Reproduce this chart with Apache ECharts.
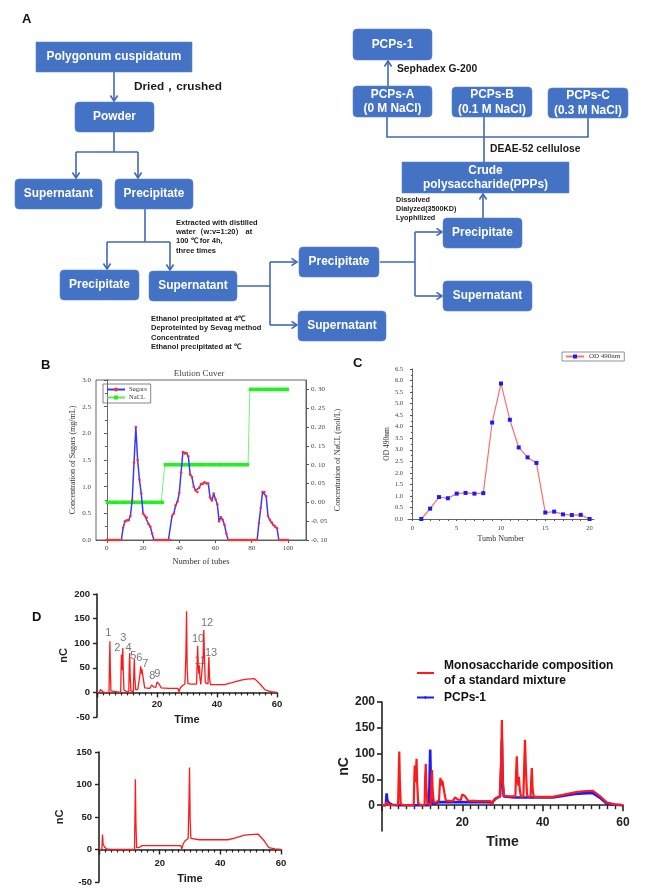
<!DOCTYPE html>
<html><head><meta charset="utf-8">
<script src="https://cdn.jsdelivr.net/npm/echarts@6/dist/echarts.min.js"></script>
<style>html,body{margin:0;padding:0;background:#fff}#c{width:645px;height:896px}</style>
</head><body><div id="c"></div>
<script>
// ================= DATA =================
// Panel A: flowchart labels
const flowLabels = {
  pc: 'Polygonum cuspidatum', powder: 'Powder', sup1: 'Supernatant', pre1: 'Precipitate',
  pre2: 'Precipitate', sup2: 'Supernatant', pre3: 'Precipitate', sup3: 'Supernatant',
  pre4: 'Precipitate', sup4: 'Supernatant', crude: 'Crude\npolysaccharide(PPPs)',
  pa: 'PCPs-A\n(0 M NaCl)', pb: 'PCPs-B\n(0.1 M NaCl)', pcc: 'PCPs-C\n(0.3 M NaCl)', p1: 'PCPs-1'
};
const flowNotes = {
  dried: 'Dried，crushed',
  extract: 'Extracted with distilled\nwater（w:v=1:20） at\n100 ℃ for 4h,\nthree times',
  ethanol: 'Ethanol precipitated at 4℃\nDeproteinted by Sevag method\nConcentrated\nEthanol precipitated at ℃',
  dialysis: 'Dissolved\nDialyzed(3500KD)\nLyophilized',
  deae: 'DEAE-52 cellulose',
  sephadex: 'Sephadex G-200'
};

// Panel B: elution curve (tube 0..100)
const sugars = [
  0,0,0,0,0,0,0,0,0,
  0.23,0.35,0.37,0.37,0.45,0.75,1.45,2.12,1.5,1.13,0.87,0.5,0.45,0.42,0.3,0.25,0.12,
  0,0,0,0,0,0,0,0,0,0,
  0.45,0.5,0.65,0.72,0.88,1.27,1.65,1.62,1.63,1.57,1.23,1.18,1.0,0.93,0.9,0.98,1.05,1.05,1.08,1.06,1.06,0.8,0.74,0.87,0.77,0.67,0.35,0.43,0.38,0.28,0.12,
  0,0,0,0,0,0,0,0,0,0,0,0,0,0,0,0,0,
  0.32,0.6,0.9,0.9,0.82,0.45,0.38,0.33,0.28,0.25,0.22,
  0,0,0,0,0,0
];
const nacl = [
  0,0,0,0,0,0,0,0,0,0, 0,0,0,0,0,0,0,0,0,0, 0,0,0,0,0,0,0,0,0,0, 0,0,
  0.1,0.1,0.1,0.1,0.1,0.1,0.1,0.1,0.1,0.1, 0.1,0.1,0.1,0.1,0.1,0.1,0.1,0.1,0.1,0.1,
  0.1,0.1,0.1,0.1,0.1,0.1,0.1,0.1,0.1,0.1, 0.1,0.1,0.1,0.1,0.1,0.1,0.1,0.1,0.1,0.1,
  0.1,0.1,0.1,0.1,0.1,0.1,0.1,
  0.3,0.3,0.3,0.3,0.3,0.3,0.3,0.3,0.3,0.3, 0.3,0.3,0.3,0.3,0.3,0.3,0.3,0.3,0.3,0.3, 0.3,0.3
];
const tubes = sugars.map((_, i) => i);
const bTicks = [0, 20, 40, 60, 80, 100];
const bRightTicks = [-0.1, -0.05, 0, 0.05, 0.1, 0.15, 0.2, 0.25, 0.3];

// Panel C: OD 490nm
const cTubes = [1,2,3,4,5,6,7,8,9,10,11,12,13,14,15,16,17,18,19,20];
const od490 = [0.0,0.45,0.95,0.9,1.1,1.13,1.1,1.12,4.18,5.87,4.3,3.1,2.67,2.43,0.28,0.32,0.2,0.17,0.18,0.0];
const cTicks = [0, 5, 10, 15, 20];
const cMinor = [0,1,2,3,4,5,6,7,8,9,10,11,12,13,14,15,16,17,18,19,20];

// Panel D: chromatograms [time, nC]
const standardTrace = [
  [0,0],[0.9,0],[1.1,6],[1.4,7],[1.7,2],[2.3,0],
  [4.0,0],[4.15,55],[4.3,104],[4.45,45],[4.65,3],[5.2,0],
  [7.9,0],[8.05,55],[8.15,77],[8.3,45],[8.45,60],[8.6,90],[8.75,45],[9.0,4],[9.6,0],
  [10.6,0],[10.75,55],[10.9,80],[11.05,35],[11.3,3],[12.1,1],[12.3,45],[12.45,68],[12.6,30],[12.9,5],
  [13.6,6],[14.2,10],[14.4,40],[14.55,53],[14.75,38],[14.95,48],[15.1,44],[15.3,46],[15.5,25],[15.9,9],
  [17.6,8],[18.2,15],[18.5,17],[18.9,11],[19.6,10],[20.0,21],[20.3,24],[20.7,17],[21.4,9],
  [24,8],[27.0,8],[27.3,1],[27.7,8],[28.3,13],[29.3,17],[29.65,80],[29.85,165],[30.05,50],[30.3,18],[31.5,17],
  [33.2,17],[33.4,65],[33.55,95],[33.75,50],[33.95,38],[34.1,55],[34.3,30],[34.6,16],[35.2,17],[35.4,75],[35.6,127],[35.8,75],[36.1,20],[36.5,16],[37.0,17],[37.15,50],[37.3,72],[37.5,30],[37.8,16],
  [40,16],[42.5,16],[45,20],[48,25],[50,27],[52.5,28],[54.5,16],[56,5],[58,1.5],[60,0]
];
const pcpsTrace = [
  [0,0],[0.95,0],[1.15,23],[1.35,9],[1.55,12],[1.8,4],[2.5,1],[4,0],
  [11.7,0],[11.85,50],[12.0,108],[12.15,45],[12.4,3],[13.2,3],[14.2,6],[20,6],[27.0,6],[27.3,1],[27.7,8],[28.3,13],[29.4,17],[29.65,70],[29.85,126],[30.05,45],[30.3,17],[33,15],[42.5,15],[45,18],[48,22],[50,23],[52.5,23.5],[54.5,13],[56,3],[58,1],[60,0]
];
const peakLabels = [
  ['1',3.8,121],['2',6.8,91],['3',8.8,111],['4',10.5,91],['5',12.1,75],['6',14.1,69],['7',16.1,57],
  ['8',18.4,34],['9',20.1,38],['10',33.7,109],['11',34.4,63],['12',36.7,141],['13',38.0,81]
];
const stdName = 'Monosaccharide composition\nof a standard mixture';
const pcpsName = 'PCPs-1';
const d3Ticks = [0, 50, 100, 150, 200];

// ================= LAYOUT / STYLE =================
const SANS = '"Liberation Sans", Arial, sans-serif';
const SERIF = '"Liberation Serif", "Times New Roman", serif';
const BOX = '#4472C4';
const LINE = '#4068b8';
const boxLayout = {
  pc:[36,42,156,30,0], powder:[75,102,79,30,4], sup1:[15,179,87,30,4], pre1:[115,179,78,30,4],
  pre2:[60,270,79,30,4], sup2:[149,271,88,30,4], pre3:[299,247,80,30,4], sup3:[298,311,88,30,4],
  pre4:[443,218,79,30,4], sup4:[443,281,89,30,4], crude:[402,162,167,31,0],
  pa:[353,86,79,31,4], pb:[452,87,80,30,4], pcc:[548,88,80,30,4], p1:[353,29,79,31,4]
};
const connectors = [
  [[[114,72],[114,101]], true],
  [[[114,132],[114,152]], false],
  [[[76,152],[138,152]], false],
  [[[76,152],[76,178]], true],
  [[[138,152],[138,178]], true],
  [[[145,209],[145,242]], false],
  [[[107,242],[170,242]], false],
  [[[107,242],[107,269]], true],
  [[[170,242],[170,270]], true],
  [[[237,286],[270,286]], false],
  [[[270,262],[270,325]], false],
  [[[270,262],[297,262]], true],
  [[[270,325],[297,325]], true],
  [[[380,262],[415,262]], false],
  [[[415,232],[415,296]], false],
  [[[415,232],[442,232]], true],
  [[[415,296],[442,296]], true],
  [[[483,218],[483,194]], true],
  [[[484,117],[484,162]], false],
  [[[387,117],[387,137],[588,137],[588,118]], false],
  [[[388,86],[388,61]], true]
];
const notesLayout = {
  dried:   {x:134, y:87, font:'bold 11.8px', lh:13, va:'middle'},
  extract: {x:176, y:218, font:'bold 7.5px', lh:9.3, va:'top'},
  ethanol: {x:151, y:314, font:'bold 7.5px', lh:9.4, va:'top'},
  dialysis:{x:396, y:196, font:'bold 7.2px', lh:9, va:'top'},
  deae:    {x:490, y:149, font:'bold 10.3px', lh:12, va:'middle'},
  sephadex:{x:397, y:69, font:'bold 10.3px', lh:12, va:'middle'}
};

const G = [];
Object.keys(boxLayout).forEach(k => {
  const [x,y,w,h,r] = boxLayout[k];
  G.push({type:'rect', z:10, shape:{x, y, width:w, height:h, r}, style:{fill:BOX, stroke:'#5b86d0', lineWidth:0.6}});
  G.push({type:'text', z:11, style:{text:flowLabels[k], x:x+w/2, y:y+h/2, textAlign:'center', textVerticalAlign:'middle',
    align:'center', verticalAlign:'middle', fill:'#fff', font:'bold 11.9px ' + SANS, lineHeight:14.5}});
});
connectors.forEach(([pts, head]) => {
  G.push({type:'polyline', z:9, shape:{points:pts}, style:{stroke:LINE, lineWidth:1.6, fill:null}});
  if (head) {
    const n = pts.length, [x2,y2] = pts[n-1], [x1,y1] = pts[n-2];
    const L = Math.hypot(x2-x1, y2-y1), ux = (x2-x1)/L, uy = (y2-y1)/L;
    const hl = 5.5, hw = 3.6, bx = x2-ux*hl, by = y2-uy*hl;
    G.push({type:'polyline', z:9, shape:{points:[[bx-uy*hw, by+ux*hw],[x2,y2],[bx+uy*hw, by-ux*hw]]},
      style:{stroke:LINE, lineWidth:1.6, fill:null}});
  }
});
Object.keys(notesLayout).forEach(k => {
  const n = notesLayout[k];
  G.push({type:'text', z:11, style:{text:flowNotes[k], x:n.x, y:n.y, textAlign:'left', align:'left',
    textVerticalAlign:n.va, verticalAlign:n.va, fill:'#1a1a1a', font:n.font + ' ' + SANS, lineHeight:n.lh}});
});
// panel letters and B title
[['A',22,19],['B',41,365],['C',353,363],['D',32,617]].forEach(([t,x,y]) => {
  G.push({type:'text', z:11, style:{text:t, x, y, textVerticalAlign:'middle', verticalAlign:'middle', fill:'#111', font:'bold 13px ' + SANS}});
});
G.push({type:'text', z:11, style:{text:'Elution Cuver', x:199, y:374, textAlign:'center', align:'center', textVerticalAlign:'middle', verticalAlign:'middle', fill:'#444', font:'9px ' + SERIF}});

// ---- axis helpers ----
const serifLabel = (extra) => Object.assign({fontFamily:SERIF, fontSize:7, color:'#444'}, extra || {});
const grayLine = {lineStyle:{color:'#555', width:0.9}};
const dAxisLine = {onZero:false, lineStyle:{color:'#222', width:1.6}};
const dTick = {length:5, lineStyle:{color:'#222', width:1.4}};
const dMinor = {show:true, splitNumber:10, length:3, lineStyle:{color:'#222', width:1.2}};

const option = {
  animation: false,
  graphic: {elements: G},
  grid: [
    {left:96, top:380, width:210, height:160, show:true, borderColor:'#555', borderWidth:0.9, outerBoundsMode:'none'},
    {left:408, top:369, width:186, height:150, outerBoundsMode:'none'},
    {left:97, top:594, width:180, height:123, outerBoundsMode:'none'},
    {left:99, top:752, width:182, height:130, outerBoundsMode:'none'},
    {left:382, top:702, width:241, height:129, outerBoundsMode:'none'}
  ],
  legend: [
    {data:['Sugars','NaCL'], orient:'vertical', left:103, top:384, itemGap:1, itemWidth:18, itemHeight:5,
      borderColor:'#666', borderWidth:0.8, padding:[2,4,2,3], textStyle:{fontFamily:SERIF, fontSize:6.5, color:'#333', padding:[0,0,0,-1]}},
    {data:['OD 490nm'], left:562, top:352, itemWidth:18, itemHeight:5,
      borderColor:'#777', borderWidth:0.8, padding:[1,4,1,3], textStyle:{fontFamily:SERIF, fontSize:7, color:'#333'}},
    {data:[stdName, pcpsName], orient:'vertical', left:411, top:653, itemGap:2, itemWidth:17, itemHeight:3,
      textStyle:{fontFamily:SANS, fontSize:12, fontWeight:'bold', color:'#111', lineHeight:15, padding:[0,0,0,5]}}
  ],
  xAxis: [
    {gridIndex:0, type:'value', min:-6, max:110, axisLine:{onZero:false, lineStyle:{color:'#555', width:0.9}},
      axisTick:{customValues:bTicks, length:3, lineStyle:{color:'#555'}}, splitLine:{show:false},
      axisLabel:Object.assign(serifLabel({margin:5}), {customValues:bTicks}),
      name:'Number of tubes', nameLocation:'middle', nameGap:17, nameTextStyle:{fontFamily:SERIF, fontSize:8.5, color:'#333'}},
    {gridIndex:1, type:'value', min:-0.5, max:20.5, axisLine:{onZero:false, lineStyle:{color:'#555', width:0.9}},
      axisTick:{customValues:cMinor, length:2, lineStyle:{color:'#555'}}, splitLine:{show:false},
      axisLabel:Object.assign(serifLabel({margin:6, fontSize:6.5}), {customValues:cTicks}),
      name:'Tumb Number', nameLocation:'middle', nameGap:16, nameTextStyle:{fontFamily:SERIF, fontSize:8, color:'#333'}},
    {gridIndex:2, type:'value', min:0, max:60, interval:20, offset:-24.6, axisLine:dAxisLine, axisTick:dTick, minorTick:dMinor,
      splitLine:{show:false}, axisLabel:{showMinLabel:false, margin:7, fontFamily:SANS, fontSize:9.5, fontWeight:'bold', color:'#222'},
      name:'Time', nameLocation:'middle', nameGap:22, nameTextStyle:{fontFamily:SANS, fontSize:11, fontWeight:'bold', color:'#222'}},
    {gridIndex:3, type:'value', min:0, max:60, interval:20, offset:-32.5, axisLine:dAxisLine, axisTick:dTick, minorTick:dMinor,
      splitLine:{show:false}, axisLabel:{showMinLabel:false, margin:9, fontFamily:SANS, fontSize:9.5, fontWeight:'bold', color:'#222'},
      name:'Time', nameLocation:'middle', nameGap:24, nameTextStyle:{fontFamily:SANS, fontSize:11, fontWeight:'bold', color:'#222'}},
    {gridIndex:4, type:'value', min:0, max:60, interval:20, offset:-25.8, axisLine:dAxisLine,
      axisTick:{length:6, lineStyle:{color:'#222', width:1.6}}, minorTick:{show:true, splitNumber:10, length:4, lineStyle:{color:'#222', width:1.4}},
      splitLine:{show:false}, axisLabel:{showMinLabel:false, margin:11, fontFamily:SANS, fontSize:12, fontWeight:'bold', color:'#222'},
      name:'Time', nameLocation:'middle', nameGap:30, nameTextStyle:{fontFamily:SANS, fontSize:14, fontWeight:'bold', color:'#222'}}
  ],
  yAxis: [
    {gridIndex:0, type:'value', min:0, max:3, interval:0.5, axisLine:Object.assign({show:true}, grayLine),
      axisTick:{show:true, length:3, lineStyle:{color:'#555'}}, minorTick:{show:true, splitNumber:2, length:2, lineStyle:{color:'#555'}},
      splitLine:{show:false}, axisLabel:serifLabel({margin:5, formatter:v => v.toFixed(1)}),
      name:'Concentration of Sugars (mg/mL)', nameLocation:'middle', nameRotate:90, nameGap:19,
      nameTextStyle:{fontFamily:SERIF, fontSize:8, color:'#333'}},
    {gridIndex:0, type:'value', position:'right', min:-0.1, max:0.325, axisLine:Object.assign({show:true}, grayLine),
      axisTick:{show:true, customValues:bRightTicks, length:3, lineStyle:{color:'#555'}}, splitLine:{show:false},
      axisLabel:Object.assign(serifLabel({margin:5, formatter:v => v.toFixed(2).replace('.', '. ')}), {customValues:bRightTicks}),
      name:'Concentration of NaCL (mol/L)', nameLocation:'middle', nameRotate:90, nameGap:28,
      nameTextStyle:{fontFamily:SERIF, fontSize:8, color:'#333'}},
    {gridIndex:1, type:'value', min:0, max:6.5, interval:0.5, axisLine:Object.assign({show:true}, grayLine),
      axisTick:{show:true, length:2.5, lineStyle:{color:'#555'}}, minorTick:{show:true, splitNumber:2, length:1.5, lineStyle:{color:'#555'}},
      splitLine:{show:false}, axisLabel:serifLabel({margin:5, fontSize:6.5, formatter:v => v.toFixed(1)}),
      name:'OD 490nm', nameLocation:'middle', nameRotate:90, nameGap:16, nameTextStyle:{fontFamily:SERIF, fontSize:7.5, color:'#333'}},
    {gridIndex:2, type:'value', min:-50, max:200, interval:50, axisLine:{show:true, lineStyle:{color:'#222', width:1.6}},
      axisTick:{show:true, length:4, lineStyle:{color:'#222', width:1.4}}, splitLine:{show:false},
      axisLabel:{margin:7, fontFamily:SANS, fontSize:9.5, fontWeight:'bold', color:'#222'},
      name:'nC', nameLocation:'middle', nameRotate:90, nameGap:28, nameTextStyle:{fontFamily:SANS, fontSize:11, fontWeight:'bold', color:'#222'}},
    {gridIndex:3, type:'value', min:-50, max:150, interval:50, axisLine:{show:true, lineStyle:{color:'#222', width:1.6}},
      axisTick:{show:true, length:4, lineStyle:{color:'#222', width:1.4}}, splitLine:{show:false},
      axisLabel:{margin:7, fontFamily:SANS, fontSize:9.5, fontWeight:'bold', color:'#222'},
      name:'nC', nameLocation:'middle', nameRotate:90, nameGap:34, nameTextStyle:{fontFamily:SANS, fontSize:11, fontWeight:'bold', color:'#222'}},
    {gridIndex:4, type:'value', min:-50, max:200, interval:50, axisLine:{show:true, lineStyle:{color:'#222', width:1.6}},
      axisTick:{show:true, customValues:d3Ticks, length:5, lineStyle:{color:'#222', width:1.6}}, splitLine:{show:false},
      axisLabel:{customValues:d3Ticks, margin:7, fontFamily:SANS, fontSize:12, fontWeight:'bold', color:'#222'},
      name:'nC', nameLocation:'middle', nameRotate:90, nameGap:25, nameTextStyle:{fontFamily:SANS, fontSize:14, fontWeight:'bold', color:'#222'}}
  ],
  series: [
    {type:'line', name:'NaCL', xAxisIndex:0, yAxisIndex:1, data:tubes.map((t,i) => [t, nacl[i]]),
      symbol:'rect', symbolSize:[2.2,3.6], color:'#22ee22', itemStyle:{color:'#22ee22'}, lineStyle:{color:'#55ee55', width:0.8}, z:2},
    {type:'line', name:'Sugars', xAxisIndex:0, yAxisIndex:0, data:tubes.map((t,i) => [t, sugars[i]]),
      symbol:'circle', symbolSize:2.6, color:'#ff3030', itemStyle:{color:'#ff3030'}, lineStyle:{color:'#3838ff', width:1.5}, z:3},
    {type:'line', name:'OD 490nm', xAxisIndex:1, yAxisIndex:2, data:cTubes.map((t,i) => [t, od490[i]]),
      symbol:'rect', symbolSize:4, color:'#1a1aff', itemStyle:{color:'#1a1aff'}, lineStyle:{color:'#ff6f6f', width:1.2}},
    {type:'line', name:'std-top', xAxisIndex:2, yAxisIndex:3, data:standardTrace, symbol:'none',
      lineStyle:{color:'#ff1a1a', width:1.3}},
    {type:'scatter', name:'peak-labels', xAxisIndex:2, yAxisIndex:3, symbolSize:0, silent:true,
      data:peakLabels.map(p => ({name:p[0], value:[p[1], p[2]]})),
      label:{show:true, position:'inside', formatter:'{b}', fontFamily:SANS, fontSize:11, color:'#555'}},
    {type:'line', name:'pcps-bottom', xAxisIndex:3, yAxisIndex:4, data:pcpsTrace, symbol:'none',
      lineStyle:{color:'#ff1a1a', width:1.3}},
    {type:'line', name:pcpsName, xAxisIndex:4, yAxisIndex:5, data:pcpsTrace, symbol:'none', color:'#1a1aff',
      lineStyle:{color:'#1a1aff', width:2.6}, z:2},
    {type:'line', name:stdName, xAxisIndex:4, yAxisIndex:5, data:standardTrace, symbol:'none', color:'#ff1a1a',
      lineStyle:{color:'#ff1a1a', width:2.2}, z:3}
  ]
};
const chart = echarts.init(document.getElementById('c'), null, {renderer:'canvas'});
chart.setOption(option);
</script></body></html>
